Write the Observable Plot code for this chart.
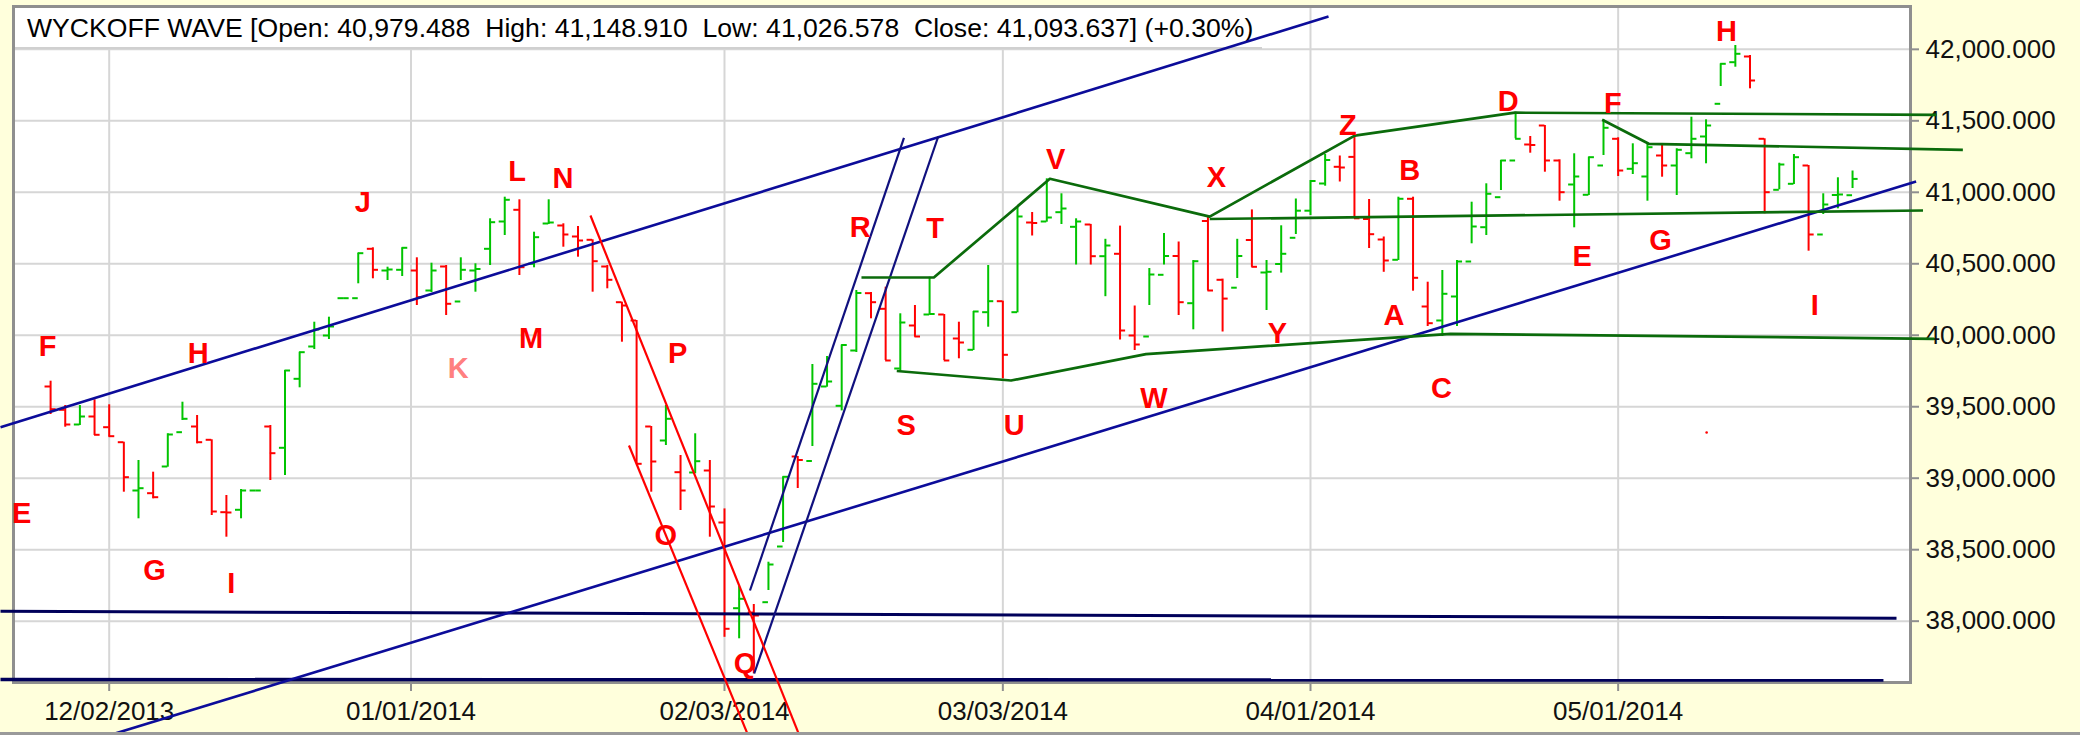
<!DOCTYPE html>
<html><head><meta charset="utf-8">
<script src="https://cdn.jsdelivr.net/npm/d3@7"></script>
<script src="https://cdn.jsdelivr.net/npm/@observablehq/plot@0.6"></script>
<style>
html,body{margin:0;padding:0;background:#ffffdc;}
#chart{width:2080px;height:735px;}
</style></head><body><div id="chart"></div>
<script>
// ---- data (trading-day index, price) ----
const titleText = "WYCKOFF WAVE [Open: 40,979.488  High: 41,148.910  Low: 41,026.578  Close: 41,093.637] (+0.30%)";
const xTickIdx = [4, 24.6, 46, 65, 86, 107];
const xTickLabels = ["12/02/2013","01/01/2014","02/03/2014","03/03/2014","04/01/2014","05/01/2014"];
const yTicks = [38000, 38500, 39000, 39500, 40000, 40500, 41000, 41500, 42000];

const barOpen = [
39641.5,39478.5,39375.7,39431.7,39356.8,39251.9,38914.0,38895.2,39081.9,39321.9,
39361.7,39268.7,38762.3,38779.1,38914.0,39361.7,39212.7,39695.3,39921.3,39998.3,
40259.2,40259.2,40604.7,40452.9,40457.8,40452.9,40313.0,40480.9,40236.1,40452.9,
40604.7,40795.7,40877.5,40499.8,40781.7,40767.7,40690.8,40667.7,40480.9,40231.2,
40103.2,39361.7,39263.8,39042.1,39040.0,39053.9,38690.2,38090.7,38060.7,38132.7,
38522.3,39151.9,39120.4,39641.6,39506.5,39893.3,40294.2,40185.0,39767.4,40068.2,
40145.2,40145.2,39977.3,39898.2,40161.3,40238.2,40161.3,40788.7,40795.7,40860.8,
40758.6,40774.7,40553.0,40569.8,39998.3,39991.3,40422.9,40554.4,40224.2,40799.2,
40387.9,40332.6,40666.3,40439.0,40498.4,40681.7,40871.3,41061.5,41178.3,41247.6,
40813.2,40669.8,40527.8,40954.5,40201.1,40103.2,40271.1,40515.9,40755.8,40965.7,
41222.4,41334.3,41467.2,41222.4,41054.5,40982.5,41187.4,41374.2,41164.3,41110.5,
41257.4,41187.4,41273.5,41390.3,41619.0,41910.0,41949.9,41374.2,41017.4,41059.4,
41187.4,40704.8,40981.1,40979.488];
const barHigh = [
39678.6,39508.6,39508.6,39548.5,39513.5,39251.9,39123.9,39042.1,39310.7,39531.7,
39438.7,39268.7,38879.1,38921.0,38914.0,39368.7,39753.4,39881.5,40091.3,40126.3,
40259.2,40574.0,40611.7,40476.0,40611.7,40541.8,40504.0,40487.9,40541.8,40499.8,
40814.6,40965.7,40947.5,40720.9,40947.5,40779.6,40760.7,40667.7,40487.9,40231.2,
40103.2,39361.7,39508.6,39158.9,39310.7,39123.9,38785.3,38242.5,38116.6,38412.5,
39009.9,39151.9,39795.4,39851.4,39931.8,40313.0,40299.1,40336.1,40150.1,40208.1,
40406.1,40145.2,40091.3,40166.2,40487.9,40238.2,40900.6,40858.7,41094.4,40989.5,
40814.6,40775.4,40671.2,40763.5,40204.6,40466.9,40711.8,40652.3,40522.2,40830.7,
40392.8,40671.2,40876.8,40522.9,40765.6,40953.1,41082.5,41264.4,41253.9,41396.6,
40949.6,40687.3,40965.7,40965.7,40371.1,40452.9,40522.9,40930.7,41059.4,41222.4,
41560.3,41390.3,41467.2,41227.3,41269.3,41245.5,41507.1,41381.2,41339.2,41334.3,
41327.3,41304.2,41525.3,41507.1,41898.8,42026.8,41956.9,41374.2,41203.5,41264.4,
41187.4,40989.5,41101.4,41148.910];
const barLow = [
39445.7,39356.8,39368.7,39298.8,39286.9,38902.2,38716.1,38856.0,39077.0,39403.7,
39240.7,38739.2,38587.4,38716.1,38914.0,38984.0,39019.0,39632.4,39900.3,39970.3,
40259.2,40359.9,40394.9,40383.0,40411.0,40208.1,40299.1,40138.2,40383.0,40301.2,
40487.9,40697.8,40418.0,40471.8,40774.7,40615.9,40546.0,40301.2,40324.9,39951.4,
39100.8,38902.2,39228.8,38774.1,39030.9,38587.4,37887.2,37876.7,37631.9,38214.5,
38550.3,38928.0,39221.8,39636.6,39470.8,39879.4,40115.1,39823.4,39748.6,39986.4,
40145.2,39823.4,39835.3,39893.3,40056.3,39695.4,40156.4,40694.3,40790.8,40774.7,
40491.4,40491.4,40269.7,39966.8,39893.3,40208.1,40491.4,40138.2,40038.1,40309.6,
40022.7,40397.0,40475.3,40173.1,40434.8,40704.8,40837.7,41042.6,41072.0,40818.1,
40606.8,40440.4,40522.9,40308.2,40061.2,39991.3,40061.2,40639.7,40697.8,41012.5,
41374.2,41273.5,41140.6,40937.7,40751.6,40977.6,41257.4,41110.5,41124.5,40937.7,
41105.6,40977.6,41234.3,41199.3,41740.0,41875.0,41723.9,40849.6,41017.4,41054.5,
40588.0,40844.6,40884.5,41026.578];
const barClose = [
39482.7,39375.7,39431.7,39303.7,39293.9,39007.1,38930.1,38867.2,39305.8,39415.6,
39251.9,38767.2,38760.2,38914.0,38914.0,39175.0,39753.4,39881.5,40040.2,40061.2,
40259.2,40574.0,40457.8,40459.9,40611.7,40266.2,40452.9,40220.0,40457.8,40463.4,
40790.8,40947.5,40476.0,40685.9,40788.7,40704.8,40662.8,40518.0,40387.9,40208.1,
39100.8,39116.9,39415.6,38914.0,39119.0,38802.1,37946.7,38156.5,38039.7,38396.4,
39009.9,39127.4,39660.4,39676.5,39931.8,40295.5,40231.2,39823.4,40089.2,39991.3,
40148.6,39823.4,39949.3,40166.2,40238.2,39863.3,40830.7,40785.2,40823.7,40886.6,
40795.7,40553.0,40627.8,40033.2,39935.3,40425.0,40554.4,40231.2,40518.0,40313.0,
40256.4,40554.4,40478.8,40443.9,40569.8,40871.3,41079.0,41225.9,41173.4,40818.1,
40706.9,40522.9,40954.5,40401.9,40084.3,40290.0,40515.9,40760.7,40989.5,41222.4,
41374.2,41330.8,41222.4,41000.7,41110.5,41245.5,41451.1,41152.4,41203.5,41315.4,
41187.4,41297.2,41374.2,41467.2,41898.8,41968.8,41782.0,41000.7,41194.4,41245.5,
40704.8,40914.6,40984.6,41093.637];

// trend lines [index, price]
const upperChannel = [[-3.42, 39356.8], [87.23, 42229.7]];
const lowerChannel = [[3.95, 37200], [127.34, 41075.5]];
const steepLeft = [[47.74, 38214.5], [58.25, 41380.5]];
const steepRight = [[48.03, 37634], [60.59, 41390.3]];
const supportTop = [[-3.42, 38069.7], [126.0, 38020.8]];
const supportBottom = [[-3.42, 37592], [125.11, 37588]];
const downLine1 = [[36.85, 40837.7], [51.07, 37212]];
const downLine2 = [[39.48, 39228.8], [47.57, 37212]];
const waveUpper = [[55.35, 40404], [60.29, 40404], [68.21, 41094.4], [79.12, 40830], [89.02, 41396.6], [99.96, 41556.8], [128.73, 41542.1]];
const waveMid = [[79.12, 40813.2], [127.81, 40872.7]];
const waveLower = [[57.76, 39750], [65.56, 39683.5], [74.77, 39868.1], [95.56, 40010.2], [128.59, 39975.2]];
const waveFG = [[105.91, 41507.1], [109.09, 41339.2], [130.53, 41297.3]];
const strayDot = [[113.04, 39319.7]];

// wave labels
const labelText = ["E","F","G","H","I","J","K","L","M","N","O","P","Q","R","T","S","U","V","W","X","Y","Z","A","B","C","D","E","F","G","H","I"];
const labelIdx = [-1.98,-0.21,7.09,10.08,12.33,21.32,27.82,31.84,32.79,34.98,41.99,42.81,47.41,55.26,60.38,58.4,65.78,68.61,75.31,79.58,83.75,88.55,91.69,92.78,94.94,99.49,104.55,106.64,109.89,114.4,120.42];
const labelPrice = [38749.6,39916.4,38354.4,39870.4,38261.4,40925,39765.5,41140.5,39975.2,41094.4,38599.2,39870.4,37701.8,40751.6,40742.5,39368.7,39368.7,41224.5,39553.4,41101.4,40007.4,41467.2,40138.2,41152.5,39625.5,41630.2,40546,41619,40657.9,42119.9,40208.2];

// ---- layout ----
const W = 2080, H = 735, ML = 13, MR = 170, MT = 6, MB = 53;

// ---- build ----
const bars = barOpen.map((o, i) => ({i, open: o, high: barHigh[i], low: barLow[i], close: barClose[i]}));
const up = bars.filter(d => d.close >= d.open);
const down = bars.filter(d => d.close < d.open);
const labels = labelText.map((t, i) => ({t, x: labelIdx[i], y: labelPrice[i]}));
const TW = 0.38;
const GREEN = "#00c400", RED = "#ff0000";

function barMarks(data, color) {
  return [
    Plot.ruleX(data, {x: "i", y1: "low", y2: "high", stroke: color, strokeWidth: 2}),
    Plot.ruleY(data, {y: "open", x1: d => d.i - TW, x2: "i", stroke: color, strokeWidth: 2}),
    Plot.ruleY(data, {y: "close", x1: "i", x2: d => d.i + TW, stroke: color, strokeWidth: 2})
  ];
}
const L = (data, stroke, w) => Plot.line(data, {x: d => d[0], y: d => d[1], stroke, strokeWidth: w, strokeLinecap: "butt"});

const titleBox = () => {
  const g = d3.create("svg:g");
  g.append("rect").attr("x", ML).attr("y", MT).attr("width", 1249).attr("height", 42).attr("fill", "white");
  g.append("line").attr("x1", ML).attr("x2", ML + 1249).attr("y1", MT + 42).attr("y2", MT + 42)
    .attr("stroke", "#d0d0d0").attr("stroke-width", 2);
  g.append("text").attr("x", ML + 14).attr("y", MT + 30.5)
    .attr("text-anchor", "start")
    .attr("font-family", "'Liberation Sans', Arial, sans-serif")
    .attr("font-size", 26.6).attr("fill", "#000").style("white-space", "pre").text(titleText);
  return g.node();
};
const bottomEdge = () => {
  const g = d3.create("svg:g");
  g.append("line").attr("x1", 0).attr("x2", W).attr("y1", H - 1.5).attr("y2", H - 1.5)
    .attr("stroke", "#9a9a9a").attr("stroke-width", 3);
  return g.node();
};

const chart = Plot.plot({
  width: W, height: H,
  marginLeft: ML, marginRight: MR, marginTop: MT, marginBottom: MB,
  x: {domain: [-2.532, 126.956], label: null},
  y: {domain: [37571, 42299.6], label: null},
  style: {background: "#ffffdc", fontFamily: "'Liberation Sans', Arial, sans-serif", fontSize: "26px", color: "#111"},
  marks: [
    Plot.frame({fill: "white", stroke: null}),
    Plot.ruleY(yTicks, {stroke: "#d6d6d6", strokeWidth: 2}),
    Plot.ruleX(xTickIdx, {stroke: "#d6d6d6", strokeWidth: 2}),
    titleBox,
    Plot.frame({stroke: "#8f8f8f", strokeWidth: 3}),
    Plot.axisX(xTickIdx, {anchor: "bottom", tickFormat: d => xTickLabels[xTickIdx.indexOf(d)], tickSize: 9, tickPadding: 10, stroke: "#8f8f8f", strokeWidth: 2, fill: "#111", fontSize: 26, label: null}),
    Plot.axisY(yTicks, {anchor: "right", tickFormat: d3.format(",.3f"), tickSize: 8, tickPadding: 7, stroke: "#8f8f8f", strokeWidth: 2, fill: "#111", fontSize: 26, label: null}),
    ...barMarks(up, GREEN),
    ...barMarks(down, RED),
    L(supportTop, "#00005a", 3),
    L(supportBottom, "#00005a", 3.4),
    L(upperChannel, "#0c0c9a", 2.6),
    L(lowerChannel, "#0c0c9a", 2.6),
    L(steepLeft, "#10107e", 2.2),
    L(steepRight, "#10107e", 2.2),
    L(downLine1, "#ff0000", 2.2),
    L(downLine2, "#ff0000", 2.2),
    L(waveUpper, "#0b6b0b", 2.7),
    L(waveMid, "#0b6b0b", 2.7),
    L(waveLower, "#0b6b0b", 2.7),
    L(waveFG, "#0b6b0b", 2.7),
    Plot.dot(strayDot, {x: d => d[0], y: d => d[1], r: 1.3, fill: "#ff0000", stroke: null}),
    Plot.text(labels.filter(d => d.t !== "K"), {x: "x", y: "y", text: "t", fill: "#ff0000", fontSize: 29, fontWeight: "bold"}),
    Plot.text(labels.filter(d => d.t === "K"), {x: "x", y: "y", text: "t", fill: "#ff8080", fontSize: 29, fontWeight: "bold"}),
    bottomEdge
  ]
});
document.getElementById("chart").appendChild(chart);
</script></body></html>
